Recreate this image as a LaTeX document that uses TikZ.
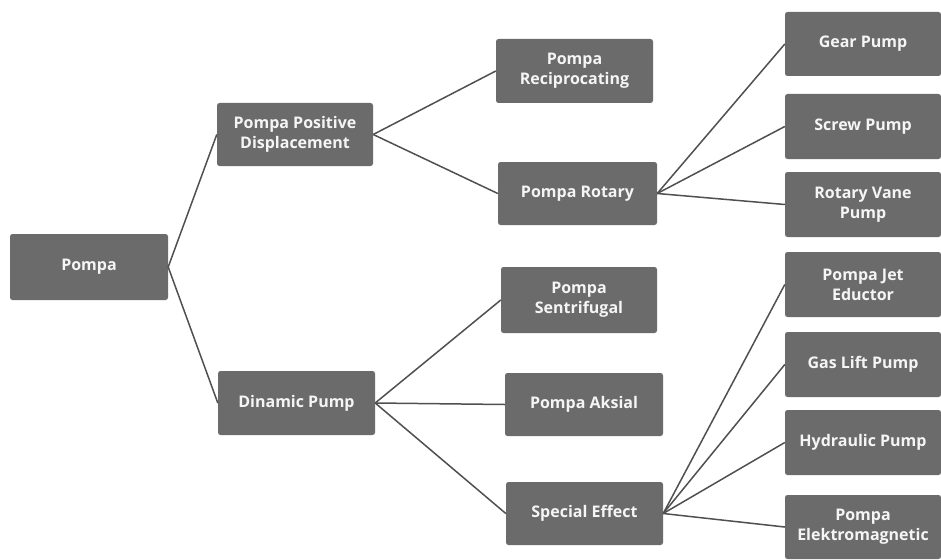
\documentclass[tikz,border=0pt]{standalone}
\usepackage{fontspec}
\setmainfont{Open Sans}
\definecolor{boxgray}{HTML}{6B6B6B}
\definecolor{linegray}{HTML}{505050}
\begin{document}
\begin{tikzpicture}[x=1pt,y=-1pt,
  box/.style={draw=none, fill=boxgray, rounded corners=2.5pt, text=white!92!gray,
    font=\bfseries\fontsize{16}{20}\selectfont, align=center, inner sep=0pt},
  link/.style={draw=linegray, line width=1.5pt}]
\useasboundingbox[fill=white] (0,0) rectangle (941,559);
\newcommand\bx[6]{\node[box, minimum width=#4-#2, minimum height=#5-#3] (#1) at ({(#2+#4)/2},{(#3+#5)/2}) {#6};}
\bx{pompa}{10}{234}{168}{300}{Pompa}
\bx{ppd}{217}{103}{373}{166}{Pompa Positive\\Displacement}
\bx{din}{218}{371}{375}{435}{Dinamic Pump}
\bx{rec}{496}{39}{653}{103}{Pompa\\Reciprocating}
\bx{rot}{498}{162}{657}{225}{Pompa Rotary}
\bx{sen}{501}{267}{657}{333}{Pompa\\Sentrifugal}
\bx{aks}{505}{373}{663}{436}{Pompa Aksial}
\bx{spe}{506}{482}{663}{545}{Special Effect}
\bx{gear}{785}{12}{941}{76}{Gear Pump}
\bx{screw}{785}{94}{941}{159}{Screw Pump}
\bx{vane}{785}{172}{941}{237}{Rotary Vane\\Pump}
\bx{jet}{785}{252}{941}{317}{Pompa Jet\\Eductor}
\bx{gas}{785}{332}{941}{397}{Gas Lift Pump}
\bx{hyd}{785}{410}{941}{475}{Hydraulic Pump}
\bx{elk}{785}{495}{941}{559}{Pompa\\Elektromagnetic}
\foreach \a/\b in {pompa/ppd, pompa/din, ppd/rec, ppd/rot, din/sen, din/aks, din/spe,
  rot/gear, rot/screw, rot/vane, spe/jet, spe/gas, spe/hyd, spe/elk}
  \draw[link] (\a.east) -- (\b.west);
\end{tikzpicture}
\end{document}
